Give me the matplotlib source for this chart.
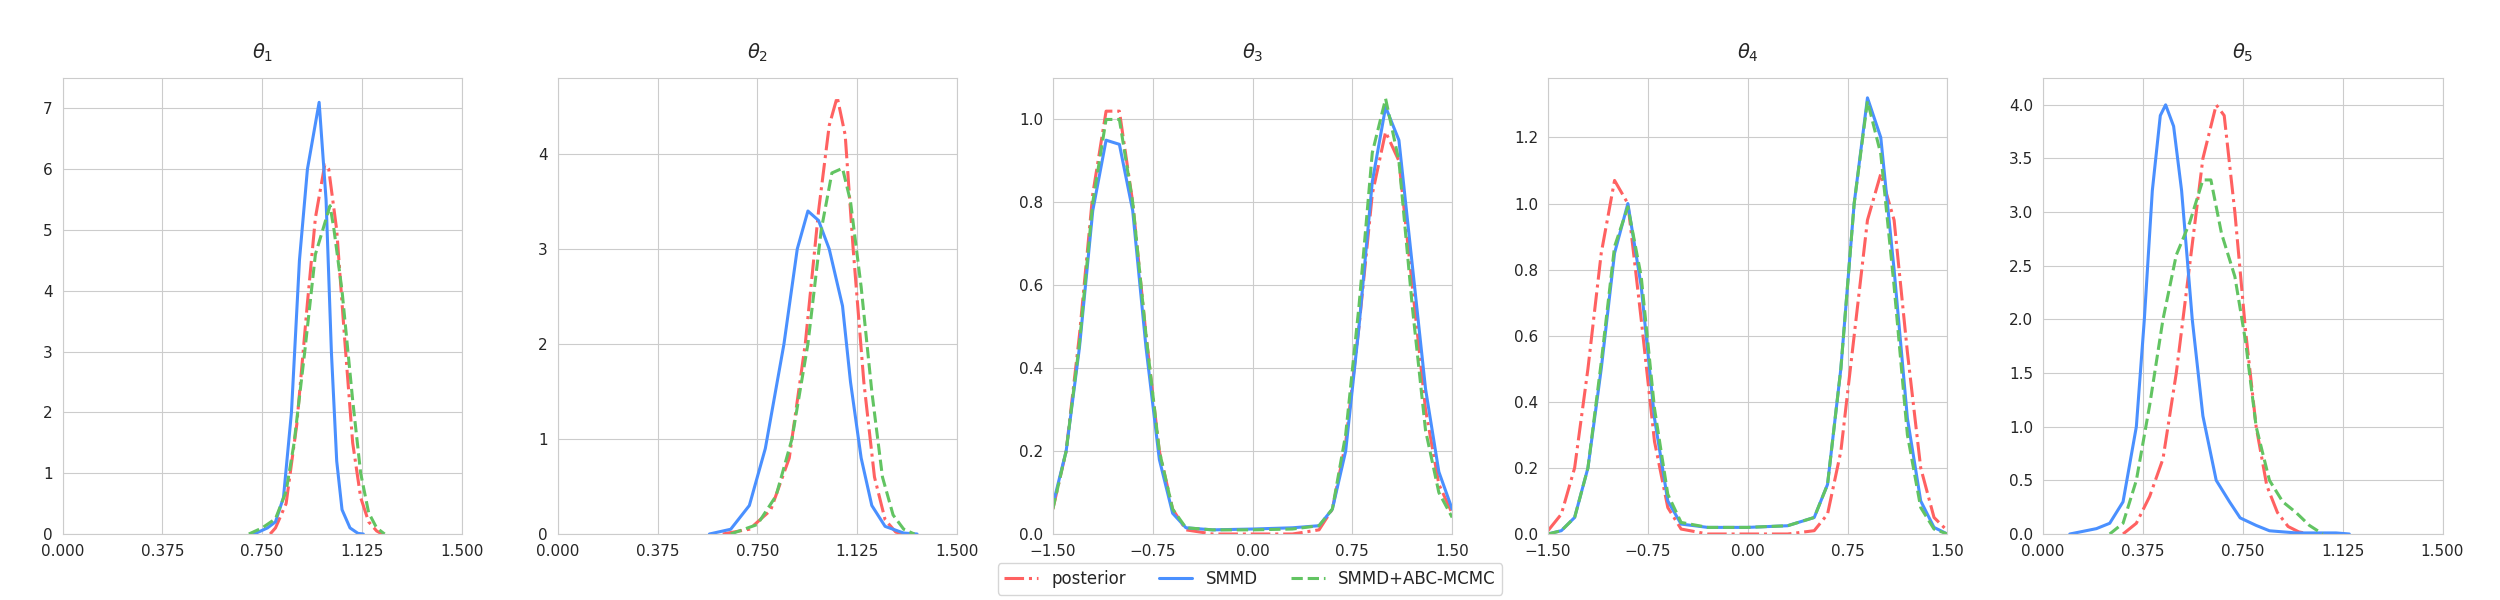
import numpy as np
import matplotlib
matplotlib.use("Agg")
import matplotlib.pyplot as plt
import seaborn as sns

sns.set_style("whitegrid")

# density curves, one (x, y) list per series and panel
p1_post_x = [0.78, 0.80, 0.84, 0.88, 0.92, 0.95, 0.985, 1.00, 1.03, 1.06, 1.09, 1.12, 1.15, 1.18, 1.20]
p1_post_y = [0.0, 0.1, 0.5, 1.8, 3.8, 5.2, 6.07, 6.0, 5.0, 3.2, 1.5, 0.6, 0.2, 0.05, 0.0]
p1_smmd_x = [0.72, 0.77, 0.80, 0.83, 0.86, 0.89, 0.92, 0.964, 0.99, 1.01, 1.03, 1.05, 1.08, 1.11, 1.13]
p1_smmd_y = [0.0, 0.1, 0.2, 0.6, 2.0, 4.5, 6.0, 7.1, 5.5, 3.0, 1.2, 0.4, 0.1, 0.01, 0.0]
p1_abc_x = [0.70, 0.75, 0.80, 0.84, 0.87, 0.91, 0.95, 1.005, 1.02, 1.05, 1.09, 1.12, 1.15, 1.18, 1.21]
p1_abc_y = [0.0, 0.1, 0.25, 0.7, 1.5, 3.0, 4.6, 5.4, 5.0, 4.0, 2.2, 1.0, 0.35, 0.1, 0.0]

p2_post_x = [0.62, 0.72, 0.80, 0.87, 0.93, 0.98, 1.02, 1.05, 1.08, 1.11, 1.15, 1.19, 1.23, 1.27, 1.30]
p2_post_y = [0.0, 0.05, 0.25, 0.8, 2.0, 3.4, 4.3, 4.6, 4.2, 3.0, 1.6, 0.6, 0.15, 0.02, 0.0]
p2_smmd_x = [0.57, 0.65, 0.72, 0.78, 0.85, 0.90, 0.94, 0.98, 1.02, 1.07, 1.10, 1.14, 1.18, 1.23, 1.30, 1.35]
p2_smmd_y = [0.0, 0.05, 0.3, 0.9, 2.0, 3.0, 3.4, 3.3, 3.0, 2.4, 1.6, 0.8, 0.3, 0.08, 0.01, 0.0]
p2_abc_x = [0.65, 0.75, 0.82, 0.88, 0.94, 0.99, 1.03, 1.07, 1.10, 1.14, 1.18, 1.22, 1.26, 1.30, 1.34]
p2_abc_y = [0.0, 0.1, 0.4, 1.0, 2.0, 3.2, 3.8, 3.85, 3.5, 2.6, 1.5, 0.6, 0.2, 0.05, 0.0]

bi_x = [-1.5, -1.4, -1.3, -1.2, -1.1, -1.0, -0.9, -0.8, -0.7, -0.6, -0.5, -0.3, 0.0,
        0.3, 0.5, 0.6, 0.7, 0.8, 0.9, 1.0, 1.1, 1.2, 1.3, 1.4, 1.5]
p3_post_y = [0.06, 0.2, 0.48, 0.82, 1.02, 1.02, 0.8, 0.48, 0.2, 0.06, 0.01, 0.0, 0.0,
             0.0, 0.01, 0.06, 0.22, 0.5, 0.82, 0.97, 0.9, 0.6, 0.3, 0.12, 0.05]
p3_smmd_y = [0.07, 0.2, 0.45, 0.78, 0.95, 0.94, 0.78, 0.45, 0.18, 0.05, 0.015, 0.01, 0.012,
             0.015, 0.02, 0.06, 0.2, 0.5, 0.85, 1.03, 0.95, 0.65, 0.35, 0.15, 0.06]
p3_abc_y = [0.06, 0.2, 0.46, 0.8, 1.0, 1.0, 0.8, 0.48, 0.2, 0.06, 0.015, 0.01, 0.01,
            0.012, 0.02, 0.06, 0.24, 0.55, 0.92, 1.05, 0.9, 0.55, 0.25, 0.1, 0.04]

p4_post_y = [0.01, 0.06, 0.2, 0.5, 0.85, 1.07, 1.0, 0.65, 0.28, 0.08, 0.015, 0.0, 0.0,
             0.0, 0.01, 0.06, 0.25, 0.6, 0.95, 1.09, 0.95, 0.55, 0.2, 0.05, 0.01]
p4_smmd_y = [0.0, 0.01, 0.05, 0.2, 0.5, 0.85, 1.0, 0.75, 0.35, 0.1, 0.03, 0.02, 0.02,
             0.025, 0.05, 0.15, 0.5, 1.0, 1.32, 1.2, 0.8, 0.35, 0.1, 0.02, 0.0]
p4_abc_y = [0.0, 0.01, 0.05, 0.2, 0.52, 0.87, 0.99, 0.78, 0.38, 0.12, 0.035, 0.02, 0.02,
            0.025, 0.05, 0.15, 0.5, 1.0, 1.31, 1.15, 0.75, 0.3, 0.08, 0.015, 0.0]

p5_post_x = [0.30, 0.35, 0.40, 0.45, 0.50, 0.55, 0.60, 0.65, 0.68, 0.72, 0.76, 0.80, 0.84, 0.88, 0.92, 0.96, 1.00]
p5_post_y = [0.0, 0.1, 0.35, 0.7, 1.5, 2.5, 3.5, 4.0, 3.9, 3.0, 1.9, 1.0, 0.45, 0.2, 0.07, 0.02, 0.0]
p5_smmd_x = [0.10, 0.20, 0.25, 0.30, 0.35, 0.38, 0.41, 0.44, 0.46, 0.49, 0.52, 0.56, 0.60,
             0.65, 0.70, 0.74, 0.80, 0.85, 0.95, 1.10, 1.15]
p5_smmd_y = [0.0, 0.05, 0.1, 0.3, 1.0, 2.0, 3.2, 3.9, 4.0, 3.8, 3.2, 2.0, 1.1,
             0.5, 0.3, 0.15, 0.08, 0.03, 0.01, 0.01, 0.0]
p5_abc_x = [0.25, 0.30, 0.35, 0.40, 0.45, 0.50, 0.55, 0.60, 0.63, 0.67, 0.72, 0.76, 0.80,
            0.85, 0.90, 0.95, 1.00, 1.05]
p5_abc_y = [0.0, 0.1, 0.5, 1.2, 2.0, 2.6, 2.9, 3.3, 3.3, 2.8, 2.4, 1.8, 1.0,
            0.5, 0.3, 0.2, 0.08, 0.0]

panels = [
    ((p1_post_x, p1_post_y), (p1_smmd_x, p1_smmd_y), (p1_abc_x, p1_abc_y), (0, 1.5), 7.5),
    ((p2_post_x, p2_post_y), (p2_smmd_x, p2_smmd_y), (p2_abc_x, p2_abc_y), (0, 1.5), 4.8),
    ((bi_x, p3_post_y), (bi_x, p3_smmd_y), (bi_x, p3_abc_y), (-1.5, 1.5), 1.1),
    ((bi_x, p4_post_y), (bi_x, p4_smmd_y), (bi_x, p4_abc_y), (-1.5, 1.5), 1.38),
    ((p5_post_x, p5_post_y), (p5_smmd_x, p5_smmd_y), (p5_abc_x, p5_abc_y), (0, 1.5), 4.25),
]

RED, BLUE, GREEN = "#ff6161", "#4a90ff", "#62c462"

fig, axes = plt.subplots(1, 5, figsize=(25, 6))
for i, (ax, (post, smmd, abc, xlim, ytop)) in enumerate(zip(axes, panels)):
    ax.plot(*post, color=RED, linestyle="-.", linewidth=2.2, label="posterior")
    ax.plot(*smmd, color=BLUE, linewidth=2.2, label="SMMD")
    ax.plot(*abc, color=GREEN, linestyle="--", linewidth=2.2, label="SMMD+ABC-MCMC")
    ax.set_xlim(*xlim)
    ax.set_ylim(0, ytop)
    ticks = np.linspace(xlim[0], xlim[1], 5)
    ax.set_xticks(ticks)
    fmt = "{:.3f}" if xlim[0] == 0 else "{:.2f}"
    ax.set_xticklabels([fmt.format(t).replace("-", "\u2212") for t in ticks])
    ax.tick_params(labelsize=11)
    ax.set_title(rf"$\theta_{i + 1}$", fontsize=14, pad=14)

handles, labels = axes[0].get_legend_handles_labels()
fig.legend(handles, labels, loc="lower center", ncol=3, fontsize=12,
           bbox_to_anchor=(0.5, -0.005), frameon=True)
fig.subplots_adjust(left=0.025, right=0.977, top=0.87, bottom=0.11, wspace=0.24)
plt.savefig("out.png", dpi=100)
